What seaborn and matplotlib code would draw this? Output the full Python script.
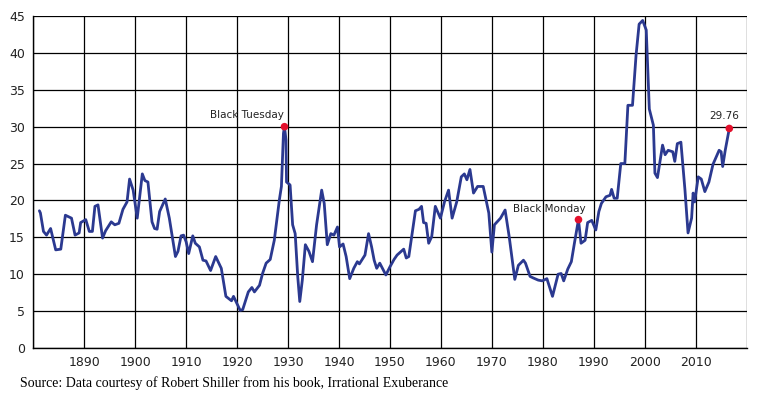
import numpy as np
import pandas as pd
import seaborn as sns
import matplotlib.pyplot as plt

# Shiller CAPE (year, ratio)
years = [1881.2, 1881.4, 1882.0, 1882.6, 1883.4, 1884.4, 1885.4, 1886.3, 1887.5, 1888.2,
         1889.0, 1889.3, 1890.3, 1891.0, 1891.6, 1892.1, 1892.7, 1893.6, 1894.2, 1895.3,
         1896.0, 1896.8, 1897.6, 1898.4, 1898.9, 1899.6, 1900.4, 1901.4, 1901.9, 1902.5,
         1903.3, 1903.8, 1904.3, 1904.8, 1905.9, 1906.7, 1907.9, 1908.4, 1909.0, 1909.5,
         1910.0, 1910.5, 1911.3, 1911.8, 1912.6, 1913.3, 1913.9, 1914.8, 1915.8, 1916.9,
         1917.8, 1918.9, 1919.3, 1920.6, 1921.1, 1922.2, 1922.9, 1923.4, 1924.4, 1925.0,
         1925.7, 1926.5, 1927.3, 1928.3, 1928.7, 1929.1, 1929.3, 1929.6, 1929.7, 1930.4,
         1930.9, 1931.4, 1931.9, 1932.3, 1932.8, 1933.4, 1934.1, 1934.8, 1935.6, 1936.6,
         1937.1, 1937.7, 1938.4, 1939.0, 1939.7, 1940.1, 1940.8, 1941.4, 1942.1, 1942.9,
         1943.6, 1944.0, 1945.1, 1945.8, 1946.4, 1946.9, 1947.4, 1948.0, 1949.2, 1950.0,
         1950.8, 1951.4, 1952.7, 1953.2, 1953.7, 1955.0, 1955.7, 1956.2, 1956.6, 1957.1,
         1957.6, 1958.2, 1958.9, 1959.9, 1960.7, 1961.5, 1962.2, 1963.1, 1964.0, 1964.6,
         1965.1, 1965.7, 1966.4, 1967.2, 1968.3, 1969.4, 1970.0, 1970.5, 1971.7, 1972.6,
         1973.4, 1974.5, 1975.2, 1976.2, 1976.6, 1977.5, 1978.1, 1979.1, 1979.9, 1980.8,
         1981.9, 1983.0, 1983.6, 1984.1, 1984.9, 1985.6, 1986.2, 1987.0, 1987.5, 1988.3,
         1988.8, 1989.6, 1990.4, 1991.0, 1991.5, 1992.4, 1993.2, 1993.5, 1994.0, 1994.6,
         1995.3, 1996.1, 1996.7, 1997.6, 1998.3, 1998.9, 1999.6, 2000.3, 2000.9, 2001.7,
         2002.0, 2002.5, 2003.5, 2004.0, 2004.6, 2005.5, 2005.9, 2006.4, 2007.1, 2007.9,
         2008.5, 2009.2, 2009.5, 2009.8, 2010.5, 2011.1, 2011.8, 2012.6, 2013.4, 2014.6,
         2015.0, 2015.3, 2015.8, 2016.6]
cape = [18.6, 18.3, 15.8, 15.3, 16.2, 13.3, 13.4, 18.0, 17.6, 15.3,
        15.6, 17.0, 17.4, 15.8, 15.8, 19.2, 19.4, 14.9, 15.9, 17.1,
        16.7, 16.9, 18.8, 19.8, 22.9, 21.4, 17.6, 23.6, 22.7, 22.5,
        17.1, 16.2, 16.1, 18.5, 20.2, 17.6, 12.4, 13.1, 15.2, 15.3,
        14.4, 12.8, 15.2, 14.2, 13.7, 11.9, 11.8, 10.5, 12.4, 10.8,
        7.0, 6.4, 7.0, 5.1, 5.2, 7.6, 8.2, 7.6, 8.5, 10.1,
        11.5, 12.0, 14.6, 20.1, 21.9, 29.1, 30.0, 28.2, 22.5, 22.1,
        16.7, 15.5, 9.7, 6.3, 9.2, 14.0, 13.1, 11.7, 16.7, 21.4,
        19.6, 14.0, 15.5, 15.3, 16.4, 13.7, 14.1, 12.4, 9.4, 10.8,
        11.7, 11.4, 12.6, 15.5, 13.7, 11.9, 10.8, 11.5, 9.9, 11.0,
        12.0, 12.6, 13.4, 12.2, 12.4, 18.6, 18.8, 19.2, 17.0, 16.9,
        14.2, 15.1, 19.2, 17.6, 19.8, 21.4, 17.6, 19.8, 23.2, 23.6,
        22.8, 24.2, 21.0, 21.9, 21.9, 18.3, 13.0, 16.7, 17.6, 18.7,
        15.1, 9.3, 11.2, 11.9, 11.5, 9.7, 9.5, 9.2, 9.1, 9.4,
        7.0, 10.0, 10.1, 9.1, 10.7, 11.7, 14.2, 17.4, 14.2, 14.6,
        17.0, 17.3, 16.0, 18.5, 19.6, 20.5, 20.7, 21.5, 20.3, 20.3,
        25.0, 25.0, 32.9, 32.9, 39.7, 43.9, 44.4, 43.1, 32.4, 30.2,
        23.7, 23.1, 27.5, 26.2, 26.8, 26.6, 25.3, 27.7, 27.9, 21.4,
        15.6, 17.6, 21.0, 19.8, 23.2, 22.9, 21.2, 22.5, 24.9, 26.8,
        26.6, 24.6, 26.8, 29.76]

event_labels = ["Black Tuesday", "Black Monday", "29.76"]
event_years = [1929.3, 1987.0, 2016.6]
event_values = [30.0, 17.4, 29.76]

df = pd.DataFrame({"year": years, "cape": cape})
events = pd.DataFrame({"label": event_labels, "year": event_years, "cape": event_values})

sns.set_style("white")
fig = plt.figure(figsize=(7.58, 4.01), dpi=100)
ax = fig.add_axes([0.0439, 0.1322, 0.9411, 0.8278])

sns.lineplot(data=df, x="year", y="cape", ax=ax, color="#2b3990", linewidth=2.0,
             estimator=None, sort=False, zorder=3)
sns.scatterplot(data=events, x="year", y="cape", ax=ax, color="#e3102c", s=30,
                edgecolor="none", zorder=4)

ax.set_xlim(1880, 2020)
ax.set_ylim(0, 45)
ax.set_xticks(np.arange(1880, 2021, 10))
ax.set_xticklabels([""] + [str(y) for y in range(1890, 2011, 10)] + [""])
ax.set_yticks(np.arange(0, 46, 5))
ax.grid(True, color="black", linewidth=0.9)
ax.set_axisbelow(True)
for side in ["top", "right"]:
    ax.spines[side].set_visible(False)
for side in ["left", "bottom"]:
    ax.spines[side].set_color("black")
    ax.spines[side].set_linewidth(1.0)
ax.tick_params(axis="both", direction="out", length=4, width=0.9, color="black",
               labelsize=9, pad=2, labelcolor="#222222")
ax.set_xlabel("")
ax.set_ylabel("")

# event labels
offsets = [(-38, 7), (-29, 6), (-5, 7)]
for (lab, x, y), off in zip(zip(event_labels, event_years, event_values), offsets):
    ax.annotate(lab, (x, y), xytext=off, textcoords="offset pixels", ha="center",
                va="bottom", fontsize=7.5, color="#222222", family="DejaVu Sans")

fig.text(20 / 758, 1 - 383 / 401, "Source: Data courtesy of Robert Shiller from his book, Irrational Exuberance",
         ha="left", va="center", fontsize=10, family="Liberation Serif", color="black")

fig.savefig("out.png", dpi=100)
